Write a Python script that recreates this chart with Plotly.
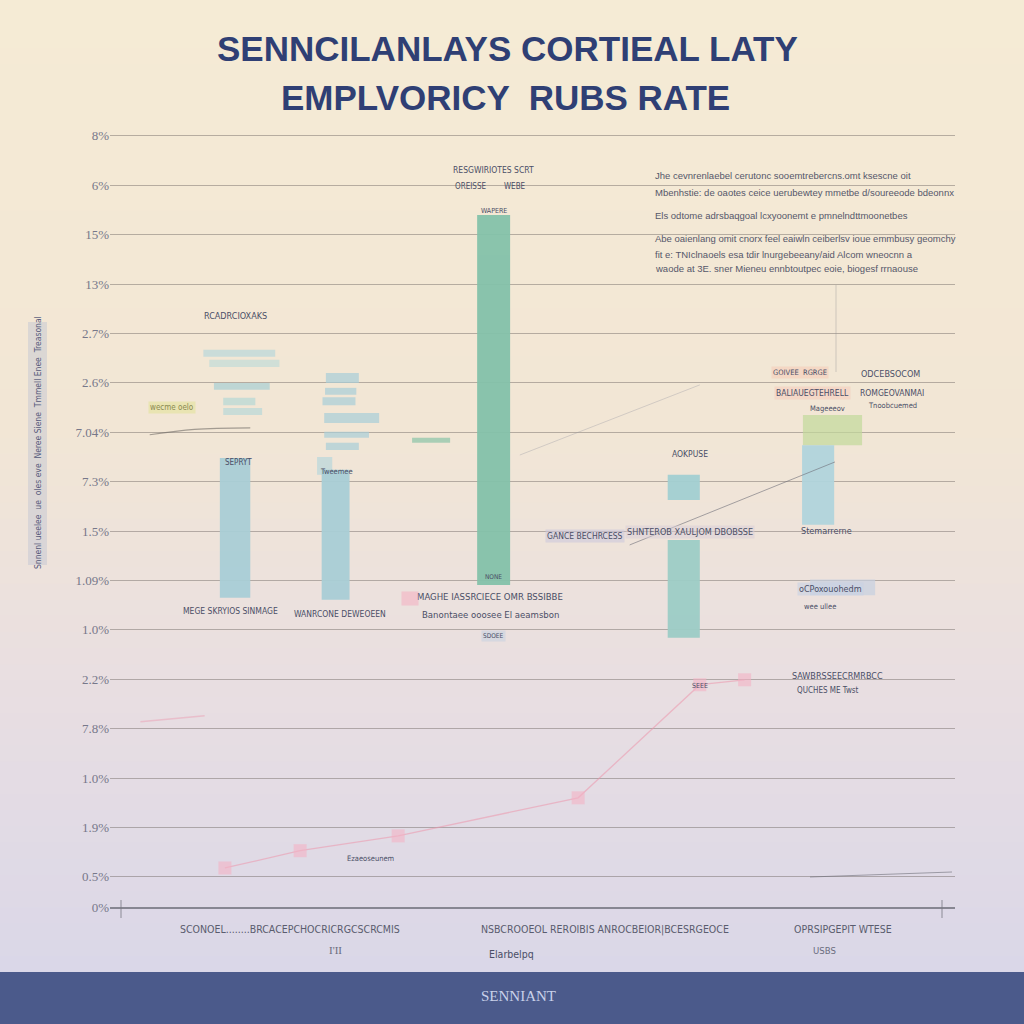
import plotly.graph_objects as go

# ---------------- data ----------------
title_lines = ["SENNCILANLAYS CORTIEAL LATY", "EMPLVORICY  RUBS RATE"]
footer_text = "SENNIANT"

y_tick_vals = [0.39, 1, 2, 3, 4, 5, 6, 7, 8, 9, 10, 11, 12, 13, 14, 15, 16]
y_tick_text = ["0%", "0.5%", "1.9%", "1.0%", "7.8%", "2.2%", "1.0%", "1.09%", "1.5%",
               "7.3%", "7.04%", "2.6%", "2.7%", "13%", "15%", "6%", "8%"]

# main floating bars
bar_x = [1.48, 2.67, 4.54, 6.79, 6.79, 8.38]
bar_w = [0.36, 0.33, 0.39, 0.38, 0.38, 0.38]
bar_low = [6.65, 6.61, 6.91, 5.84, 8.63, 8.13]
bar_high = [9.48, 9.24, 14.40, 7.82, 9.14, 9.74]
bar_colors = ["#a9ced6", "#a9ced6", "#84c2aa", "#9dcdc6", "#a3cfd2", "#b0d4dc"]

# faint stacked blocks
ghost_x = [1.53, 1.59, 1.56, 1.53, 1.57, 2.75, 2.73, 2.71, 2.86, 2.80, 2.75, 2.54, 3.80, 8.67, 8.55]
ghost_w = [0.85, 0.83, 0.66, 0.38, 0.46, 0.39, 0.37, 0.39, 0.65, 0.53, 0.39, 0.18, 0.45, 0.77, 0.70]
ghost_low = [11.53, 11.32, 10.86, 10.55, 10.35, 11.00, 10.76, 10.55, 10.19, 9.89, 9.64, 9.14, 9.79, 6.70, 9.74]
ghost_high = [11.67, 11.47, 11.00, 10.70, 10.49, 11.20, 10.90, 10.71, 10.39, 10.01, 9.79, 9.50, 9.89, 7.02, 10.35]
ghost_colors = ["#b9d8dc", "#c2dcd8", "#a9d0d4", "#b6d8d6", "#b9d8d8", "#a9ced8", "#a9ced8",
                "#a9ced8", "#a9ced8", "#a9ced8", "#a9ced8", "#b9d8dc", "#8cc4a8", "#c6d0e0", "#c2d89a"]

# pink line series
pink_x = [1.36, 2.25, 3.41, 5.54, 6.98, 7.51]
pink_y = [1.18, 1.53, 1.83, 2.60, 4.89, 4.99]
pink2_x = [0.36, 1.12]
pink2_y = [4.14, 4.26]

# thin grey lines
grey1_x = [6.15, 8.58]
grey1_y = [7.72, 9.40]
grey2_x = [0.47, 1.0, 1.66]
grey2_y = [9.95, 10.06, 10.09]
grey3_x = [4.85, 6.98]
grey3_y = [9.54, 10.96]

paragraph = [
    "Jhe cevnrenlaebel cerutonc sooemtrebercns.omt ksescne oit",
    "Mbenhstie: de oaotes ceice uerubewtey mmetbe d/soureeode bdeonnx",
    "Els odtome adrsbaqgoal lcxyoonemt e pmnelndttmoonetbes",
    "Abe oaienlang omit cnorx feel eaiwln ceiberlsv ioue emmbusy geomchy",
    "fit e: TNIclnaoels esa tdir lnurgebeeany/aid Alcom wneocnn a",
    "waode at 3E. sner Mieneu ennbtoutpec eoie, biogesf rrnaouse",
]

# ---------------- layout geometry ----------------
L, R, T, B = 110, 69, 130, 117
W, H = 1024, 1024
PW, PH = W - L - R, H - T - B


def px(x):
    return (x - L) / PW


def py(y):
    return (H - B - y) / PH


fig = go.Figure()

fig.add_trace(go.Bar(x=ghost_x, y=[h - l for h, l in zip(ghost_high, ghost_low)], base=ghost_low,
                     width=ghost_w, marker=dict(color=ghost_colors, line=dict(width=0)),
                     opacity=0.7, showlegend=False, hoverinfo="skip"))
fig.add_trace(go.Bar(x=bar_x, y=[h - l for h, l in zip(bar_high, bar_low)], base=bar_low,
                     width=bar_w, marker=dict(color=bar_colors, line=dict(width=0)),
                     opacity=0.95, showlegend=False))

fig.add_trace(go.Scatter(x=grey1_x, y=grey1_y, mode="lines",
                         line=dict(color="rgba(110,110,120,0.6)", width=1), showlegend=False))
fig.add_trace(go.Scatter(x=grey2_x, y=grey2_y, mode="lines", line_shape="spline",
                         line=dict(color="rgba(110,105,100,0.6)", width=1.2), showlegend=False))
fig.add_trace(go.Scatter(x=grey3_x, y=grey3_y, mode="lines",
                         line=dict(color="rgba(150,150,160,0.35)", width=1), showlegend=False))
fig.add_trace(go.Scatter(x=pink_x, y=pink_y, mode="lines+markers",
                         line=dict(color="rgba(236,150,172,0.55)", width=1.3),
                         marker=dict(symbol="square", size=13, color="rgba(244,178,196,0.6)"),
                         showlegend=False))
fig.add_trace(go.Scatter(x=pink2_x, y=pink2_y, mode="lines",
                         line=dict(color="rgba(236,160,180,0.5)", width=1.5), showlegend=False))

# ---------------- background gradient ----------------
stops = [(0, (245, 235, 213)), (430, (242, 230, 213)), (700, (232, 222, 226)), (972, (218, 215, 232))]


def col_at(y):
    for (y0, c0), (y1, c1) in zip(stops[:-1], stops[1:]):
        if y0 <= y <= y1:
            t = (y - y0) / (y1 - y0)
            return "rgb(%d,%d,%d)" % tuple(round(a + (b - a) * t) for a, b in zip(c0, c1))
    return "rgb(%d,%d,%d)" % stops[-1][1]


shapes = []
n = 60
for i in range(n):
    y0 = 972 * i / n
    y1 = 972 * (i + 1) / n + 1
    shapes.append(dict(type="rect", xref="paper", yref="paper", x0=px(0), x1=px(W),
                       y0=py(y1), y1=py(y0), fillcolor=col_at((y0 + y1) / 2),
                       line=dict(width=0), layer="below"))
# footer band
shapes.append(dict(type="rect", xref="paper", yref="paper", x0=px(0), x1=px(W),
                   y0=py(H), y1=py(972), fillcolor="#4b5a8b", line=dict(width=0), layer="above"))
# axis end ticks
for xx in (121, 942):
    shapes.append(dict(type="line", xref="paper", yref="paper", x0=px(xx), x1=px(xx),
                       y0=py(900), y1=py(918), line=dict(color="rgba(120,120,130,0.8)", width=1)))
# faint vertical line right
shapes.append(dict(type="line", xref="paper", yref="paper", x0=px(836), x1=px(836),
                   y0=py(372), y1=py(285), line=dict(color="rgba(150,150,150,0.4)", width=1)))
# bottom-right thin line
shapes.append(dict(type="line", xref="paper", yref="paper", x0=px(810), x1=px(952),
                   y0=py(877), y1=py(872), line=dict(color="rgba(110,110,120,0.6)", width=1)))
# y-axis title box
shapes.append(dict(type="rect", xref="paper", yref="paper", x0=px(28), x1=px(47),
                   y0=py(565), y1=py(322), fillcolor="rgba(190,195,210,0.45)",
                   line=dict(width=0)))

# ---------------- annotations ----------------
NAR = "Liberation Sans Narrow, DejaVu Sans Condensed, Liberation Sans, sans-serif"
ann = []


def T_(text, x, y, size=10, color="#4a4f66", bg=None, anchor="center", angle=0, font=NAR):
    d = dict(text=text, x=px(x), y=py(y), xref="paper", yref="paper", showarrow=False,
             xanchor=anchor, yanchor="middle", textangle=angle,
             font=dict(size=size, color=color, family=font))
    if bg:
        d["bgcolor"] = bg
        d["borderpad"] = 1
    ann.append(d)


TF = "Liberation Sans, Arial, sans-serif"
T_("<b>%s</b>" % title_lines[0], 507, 48, size=35, color="#2f3f74", font=TF)
T_("<b>%s</b>" % title_lines[1], 505, 97, size=35, color="#2f3f74", font=TF)

T_(footer_text, 518, 996, size=15, color="#c9d1ea", font="Liberation Serif, DejaVu Serif, serif")

for i, line in enumerate(paragraph):
    T_(line, 653, [175, 193, 216, 238, 254, 268][i], size=9.5, color="#55576a", anchor="left",
       font="Liberation Sans, Arial, sans-serif")

labels = [
    ("RESGWIRIOTES SCRT", 493, 170, 8.5, None), ("OREISSE", 470, 186, 8, None), ("WEBE", 515, 186, 8, None),
    ("WAPERE", 494, 211, 7, None),
    ("RCADRCIOXAKS", 235, 316, 9, None), ("SEPRYT", 238, 462, 8, None), ("Tweemee", 336, 471, 7.5, None),
    ("MEGE SKRYIOS SINMAGE", 230, 611, 8.5, None), ("WANRCONE DEWEOEEN", 340, 614, 8.5, None),
    ("MAGHE IASSRCIECE OMR BSSIBBE", 490, 596, 9.5, None),
    ("Banontaee ooosee El aeamsbon", 490, 614, 9.5, None),
    ("GANCE BECHRCESS", 585, 536, 8.5, "rgba(205,200,220,0.6)"),
    ("SHNTEROB XAULJOM DBOBSSE", 690, 532, 9, "rgba(215,205,215,0.5)"),
    ("AOKPUSE", 690, 454, 8.5, None),
    ("ODCEBSOCOM", 890, 374, 9, None), ("BALIAUEGTEHRELL", 812, 393, 8.5, "rgba(245,200,185,0.5)"),
    ("ROMGEOVANMAI", 892, 393, 8.5, None), ("Mageeeov", 827, 408, 7.5, None),
    ("Tnoobcuemed", 892, 406, 7.5, None), ("GOIVEE  RGRGE", 800, 372, 7.5, "rgba(245,200,180,0.5)"),
    ("Stemarrerne", 826, 531, 9, None), ("oCPoxouohedm", 830, 589, 9, "rgba(200,210,228,0.6)"),
    ("wee ullee", 820, 606, 7.5, None),
    ("SAWBRSSEECRMRBCC", 837, 676, 9, None), ("QUCHES ME Twst", 828, 690, 8, None),
    ("Ezaeoseunem", 370, 858, 7.5, None), ("SEEE", 700, 686, 7, None), ("NONE", 493, 577, 6.5, None),
    ("SDOEE", 493, 636, 6.5, "rgba(200,210,225,0.6)"),
]
for text, x, y, s, bg in labels:
    T_(text, x, y, size=s, color="#4a4e66", bg=bg)

# yellow / pink blobs
T_("wecme oelo", 172, 407, 8, color="#8a8a50", bg="rgba(225,225,150,0.55)")
T_("     ", 410, 598, 10, bg="rgba(245,170,190,0.5)")

# x-axis category labels
T_("SCONOEL........BRCACEPCHOCRICRGCSCRCMIS", 290, 929, 10.5, color="#5a5c6e")
T_("NSBCROOEOL REROIBIS ANROCBEIOR|BCESRGEOCE", 605, 929, 10.5, color="#5a5c6e")
T_("OPRSIPGEPIT WTESE", 843, 929, 10.5, color="#5a5c6e")
T_("I'II", 335, 950, 11, color="#6a6c7e", font="Liberation Serif, serif")
T_("Elarbelpq", 511, 954, 10.5, color="#4a4e66")
T_("USBS", 824, 950, 9.5, color="#6a6c7e")

# y axis title
T_("Snnenl ueelee  ue  oles eve  Neree Siene  Tmmell Enee  Treasonal", 38, 443, 8.5,
   color="#55597a", angle=-90)

fig.update_layout(
    width=W, height=H,
    margin=dict(l=L, r=R, t=T, b=B),
    paper_bgcolor="rgb(238,228,218)",
    plot_bgcolor="rgba(0,0,0,0)",
    barmode="overlay",
    showlegend=False,
    shapes=shapes,
    annotations=ann,
    xaxis=dict(range=[0, 10], showgrid=False, zeroline=False, showticklabels=False,
               showline=True, linecolor="rgba(120,120,130,0.85)", linewidth=2, ticks=""),
    yaxis=dict(range=[0.39, 16.12], tickvals=y_tick_vals, ticktext=y_tick_text,
               showgrid=True, gridcolor="rgba(120,112,108,0.5)", gridwidth=1,
               zeroline=False, showline=False, ticks="",
               tickfont=dict(family="Liberation Serif, DejaVu Serif, serif", size=13,
                             color="#77788a")),
)

fig.write_html("out.html", config={"displayModeBar": False},
               post_script="document.body.style.margin='0';document.body.style.overflow='hidden';")
